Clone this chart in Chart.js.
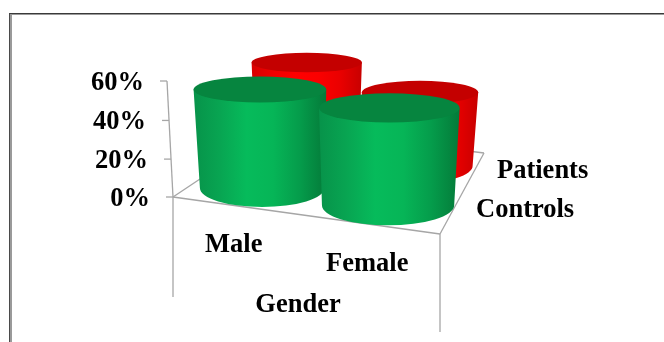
<!DOCTYPE html>
<html>
<head>
<meta charset="utf-8">
<style>
  html, body { margin: 0; padding: 0; background: #fff; }
  #wrap { position: relative; width: 664px; height: 342px; overflow: hidden; }
  #frame { position: absolute; left: 9px; top: 13px; width: 700px; height: 400px;
           border-top: 1px solid #3a3a3a; border-left: 1px solid #4a4a4a;
           box-shadow: inset 2px 1px 0 #9a9a9a; }
  canvas { position: absolute; left: 0; top: 0; }
</style>
</head>
<body>
<div id="wrap">
  <div id="frame"></div>
  <canvas id="chart" width="664" height="342"></canvas>
</div>
<script src="https://cdn.jsdelivr.net/npm/chart.js@4"></script>
<script>
const categories = ['Male', 'Female'];
const seriesNames = ['Controls', 'Patients'];
const controls = [52, 48];
const patients = [53, 42];
const valueTicks = [0, 20, 40, 60];
const categoryTitle = 'Gender';

// Corners of the box the bars stand in: floor and the 60% level.
const floorQuad = { fl: [173, 197], fr: [440, 234], br: [484, 153], bl: [278, 127] };
const roofQuad  = { fl: [167, 81],  fr: [443, 99],  br: [490, 53],  bl: [277, 34] };
const LABEL_FONT = 'bold 26.5px "Liberation Serif", "Times New Roman", serif';

function mix(a, b, t) { return [a[0] + (b[0] - a[0]) * t, a[1] + (b[1] - a[1]) * t]; }
function onQuad(q, u, w) { return mix(mix(q.fl, q.fr, u), mix(q.bl, q.br, u), w); }
// Heights foreshorten a little towards the floor.
function project(u, v, w) { return mix(onQuad(floorQuad, u, w), onQuad(roofQuad, u, w), v * (0.97 + 0.03 * v)); }

function drawCylinder(ctx, u, v, w, halfU, look) {
  const base = project(u, 0, w);
  const top = project(u, v, w);
  // Bars further along the category axis appear slightly wider.
  const taper = 1 + 0.12 * (u - 0.5);
  const rxBase = (project(u + halfU, 0, w)[0] - base[0]) * taper;
  const rxTop = (project(u + halfU, v, w)[0] - top[0]) * taper * 1.035;
  const ryBase = rxBase * 0.305;
  // The cap flattens the closer it sits to eye level.
  const ryTop = rxTop * (0.135 + 0.00068 * top[1]);

  const left = Math.min(base[0] - rxBase, top[0] - rxTop);
  const right = Math.max(base[0] + rxBase, top[0] + rxTop);
  const shade = ctx.createLinearGradient(left, 0, right, 0);
  look.body.forEach((c, i) => shade.addColorStop(i / (look.body.length - 1), c));

  ctx.beginPath();
  ctx.moveTo(top[0] - rxTop, top[1]);
  ctx.lineTo(base[0] - rxBase, base[1]);
  ctx.ellipse(base[0], base[1], rxBase, ryBase, 0, Math.PI, 0, true);
  ctx.lineTo(top[0] + rxTop, top[1]);
  ctx.closePath();
  ctx.fillStyle = shade;
  ctx.fill();

  ctx.beginPath();
  ctx.ellipse(top[0], top[1], rxTop, ryTop, 0, 0, Math.PI * 2);
  ctx.fillStyle = look.cap;
  ctx.fill();
}

const looks = {
  Controls: { cap: '#06853f', body: ['#07934a', '#08a552', '#06bb5b', '#06b557', '#059c4b', '#047a39'] },
  Patients: { cap: '#c40000', body: ['#d80000', '#f00000', '#ff0000', '#fb0000', '#ea0000', '#c80000'] }
};

const cylinders3d = {
  id: 'cylinders3d',
  afterDatasetsDraw(chart) {
    const { ctx, scales } = chart;
    const x = scales.x, y = scales.y, depth = scales.depth;
    const uOf = px => (px - x.left) / x.width;
    const wOf = name => (depth.getPixelForValue(seriesNames.indexOf(name)) - depth.left) / depth.width;
    const vOf = val => (y.bottom - y.getPixelForValue(val)) / y.height;

    ctx.save();

    // Axis lines of the box
    ctx.strokeStyle = '#a6a6a6';
    ctx.lineWidth = 1.3;
    const line = (a, b) => { ctx.beginPath(); ctx.moveTo(a[0], a[1]); ctx.lineTo(b[0], b[1]); ctx.stroke(); };
    const f = floorQuad;
    line(f.fl, f.fr); line(f.fr, f.br); line(f.br, f.bl); line(f.bl, f.fl);
    line(f.fl, [f.fl[0], f.fl[1] + 100]);
    line(f.fr, [f.fr[0], f.fr[1] + 98]);
    line(project(0, vOf(60), 0), f.fl);

    // Value axis ticks and labels
    ctx.fillStyle = '#000';
    ctx.font = LABEL_FONT;
    ctx.textAlign = 'right';
    ctx.textBaseline = 'alphabetic';
    y.ticks.forEach(t => {
      const p = project(0, vOf(t.value), 0);
      line([p[0] - 7, p[1]], p);
      ctx.fillText(t.value + '%', p[0] - 23, p[1] + 9);
    });

    // Bars, furthest row first
    const order = chart.data.datasets.map((d, i) => i).sort((a, b) => wOf(chart.data.datasets[b].label) - wOf(chart.data.datasets[a].label));
    order.forEach(i => {
      const ds = chart.data.datasets[i];
      chart.getDatasetMeta(i).data.forEach((bar, k) => {
        drawCylinder(ctx, uOf(bar.x), vOf(ds.data[k]), wOf(ds.label), (bar.width / 2) / x.width, looks[ds.label]);
      });
    });

    // Category, series and axis labels
    ctx.fillStyle = '#000';
    ctx.font = LABEL_FONT;
    ctx.textAlign = 'center';
    categories.forEach((name, i) => {
      const p = project(uOf(x.getPixelForValue(i)), 0, 0);
      ctx.fillText(name, p[0] - 6, p[1] + 46);
    });
    ctx.fillText(categoryTitle, 298, 312);
    ctx.textAlign = 'left';
    seriesNames.forEach((name, i) => {
      const p = project(1, 0, wOf(name));
      ctx.fillText(name, p[0] + (name === 'Patients' ? 24 : 25), p[1] + (name === 'Patients' ? 5 : 3));
    });
    ctx.restore();
  }
};

new Chart(document.getElementById('chart'), {
  type: 'bar',
  data: {
    labels: categories,
    datasets: [
      { label: seriesNames[0], data: controls, grouped: false, backgroundColor: 'transparent', barPercentage: 1.02, categoryPercentage: 1, xAxisID: 'x', yAxisID: 'y' },
      { label: seriesNames[1], data: patients, grouped: false, backgroundColor: 'transparent', barPercentage: 0.964, categoryPercentage: 1, xAxisID: 'x', yAxisID: 'y' }
    ]
  },
  options: {
    responsive: false,
    animation: false,
    plugins: { legend: { display: false }, tooltip: { enabled: false } },
    layout: { padding: 0 },
    scales: {
      x: { type: 'category', display: false, offset: true },
      depth: { type: 'category', labels: seriesNames, axis: 'x', display: false, offset: true },
      y: { type: 'linear', display: false, min: 0, max: 60, afterBuildTicks(s) { s.ticks = valueTicks.map(value => ({ value })); } }
    }
  },
  plugins: [cylinders3d]
});
</script>
</body>
</html>
